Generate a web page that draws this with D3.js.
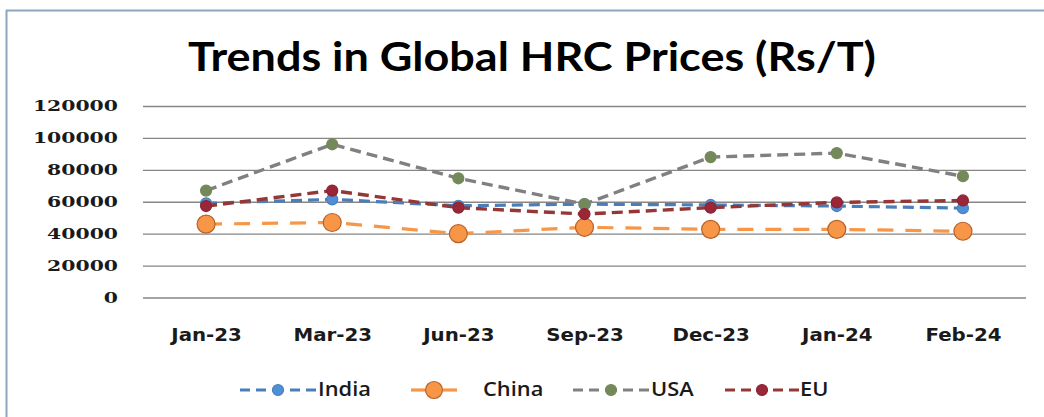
<!DOCTYPE html>
<html><head><meta charset="utf-8">
<script src="https://cdn.jsdelivr.net/npm/d3@7"></script>
<style>html,body{margin:0;padding:0;background:#fff;}svg{display:block;}</style>
</head><body>
<svg id="chart" width="1044" height="417"></svg>
<script>
// ---- data ----
const categories = ["Jan-23","Mar-23","Jun-23","Sep-23","Dec-23","Jan-24","Feb-24"];
const india = [59000, 61500, 57500, 58500, 58000, 57300, 56000];
const china = [46000, 47000, 40000, 44000, 42700, 42700, 41500];
const usa   = [67000, 96000, 74700, 58500, 88000, 90500, 76000];
const eu    = [57300, 67000, 56300, 52300, 56300, 59600, 60800];
const seriesNames = ["India","China","USA","EU"];
const yTicks = [0,20000,40000,60000,80000,100000,120000];
const titleText = "Trends in Global HRC Prices (Rs/T)";

// ---- styles ----
const styles = {
  India: {line:"#4a7ebb", dash:"11,6", lw:3.2, fill:"#4f8fd6", stroke:"#4a80c0", r:5.5},
  China: {line:"#f79646", dash:"16,12", lw:3.2, fill:"#f79646", stroke:"#b8612a", r:9},
  USA:   {line:"#808080", dash:"11,6", lw:3.4, fill:"#74895a", stroke:"#74895a", r:5.5},
  EU:    {line:"#953735", dash:"11,6", lw:3.4, fill:"#9a2738", stroke:"#8c2332", r:5.5}
};
const seriesData = {India: india, China: china, USA: usa, EU: eu};

const svg = d3.select("#chart");

// frame
svg.append("line").attr("x1",6).attr("x2",1044).attr("y1",10.5).attr("y2",10.5)
  .attr("stroke","#8ea6bd").attr("stroke-width",2);
svg.append("line").attr("x1",6.5).attr("x2",6.5).attr("y1",10).attr("y2",417)
  .attr("stroke","#8ea6bd").attr("stroke-width",2);

// title
const title = svg.append("text").attr("x",532).attr("y",71)
  .attr("text-anchor","middle")
  .style("font-family","Lato, 'Open Sans', sans-serif").style("font-weight","700")
  .style("font-size","41px").attr("fill","#000").text(titleText);
(function(){const len = title.node().getComputedTextLength(); const sx = 688/len;
  title.attr("transform",`translate(532,0) scale(${sx},1) translate(-532,0)`);})();

// scales
const plotL = 143, plotR = 1026, plotT = 106, plotB = 297.5;
const x = d3.scalePoint().domain(categories).range([plotL, plotR]).padding(0.5);
const y = d3.scaleLinear().domain([0,120000]).range([plotB, plotT]);

// y axis with gridlines
const ySx = 1.36;
const yAxis = svg.append("g").attr("transform",`translate(${plotL},0)`)
  .call(d3.axisLeft(y).tickValues(yTicks).tickSize(-(plotR-plotL)).tickPadding(25/ySx).tickFormat(d=>String(d)));
yAxis.select(".domain").remove();
yAxis.selectAll(".tick line").attr("stroke","#868686").attr("stroke-width",1.3);
yAxis.selectAll(".tick text")
  .style("font-family","'DejaVu Serif', serif").style("font-weight","700").style("font-size","15px")
  .attr("fill","#1a1a1a").attr("transform",`scale(${ySx},1)`);

// x axis
const xSx = 1.1;
const xAxis = svg.append("g").attr("transform",`translate(0,${plotB})`)
  .call(d3.axisBottom(x).tickSize(0).tickPadding(0));
xAxis.select(".domain").remove();
xAxis.selectAll(".tick text")
  .style("font-family","'DejaVu Sans', sans-serif").style("font-weight","700").style("font-size","18px")
  .attr("fill","#1a1a1a").attr("dy",null).attr("y",43.5).attr("transform",`scale(${xSx},1)`);

// series
const line = d3.line().x((d,i)=>x(categories[i])).y(d=>y(d));
seriesNames.forEach(name=>{
  const st = styles[name], vals = seriesData[name];
  svg.append("path").datum(vals).attr("d",line).attr("fill","none")
    .attr("stroke",st.line).attr("stroke-width",st.lw).attr("stroke-dasharray",st.dash);
});
seriesNames.forEach(name=>{
  const st = styles[name], vals = seriesData[name];
  svg.append("g").selectAll("circle").data(vals).join("circle")
    .attr("cx",(d,i)=>x(categories[i])).attr("cy",d=>y(d)).attr("r",st.r)
    .attr("fill",st.fill).attr("stroke",st.stroke).attr("stroke-width",1.2);
});

// legend
const legendY = 390;
const legendLayout = {
  India: {x1:240, x2:316, mx:278, tx:318},
  China: {x1:411, x2:457, mx:434, tx:483},
  USA:   {x1:573, x2:649, mx:611, tx:651},
  EU:    {x1:725, x2:799, mx:762, tx:800}
};
const lSx = 1.15;
seriesNames.forEach(name=>{
  const st = styles[name], L = legendLayout[name];
  const g = svg.append("g");
  const dash = name==="China" ? "14,100" : "10,6";
  g.append("line").attr("x1",L.x1).attr("x2",L.mx).attr("y1",legendY).attr("y2",legendY)
    .attr("stroke",st.line).attr("stroke-width",3.2).attr("stroke-dasharray",dash);
  g.append("line").attr("x1",L.x2).attr("x2",L.mx).attr("y1",legendY).attr("y2",legendY)
    .attr("stroke",st.line).attr("stroke-width",3.2).attr("stroke-dasharray",dash);
  g.append("circle").attr("cx",L.mx).attr("cy",legendY).attr("r",name==="China"?8.5:5.5)
    .attr("fill",st.fill).attr("stroke",st.stroke).attr("stroke-width",1.2);
  g.append("text").attr("x",L.tx/lSx).attr("y",legendY+6.5)
    .attr("transform",`scale(${lSx},1)`)
    .style("font-family","'Open Sans', sans-serif").style("font-weight","600").style("font-size","19px")
    .attr("fill","#1a1a1a").text(name);
});
</script>
</body></html>
